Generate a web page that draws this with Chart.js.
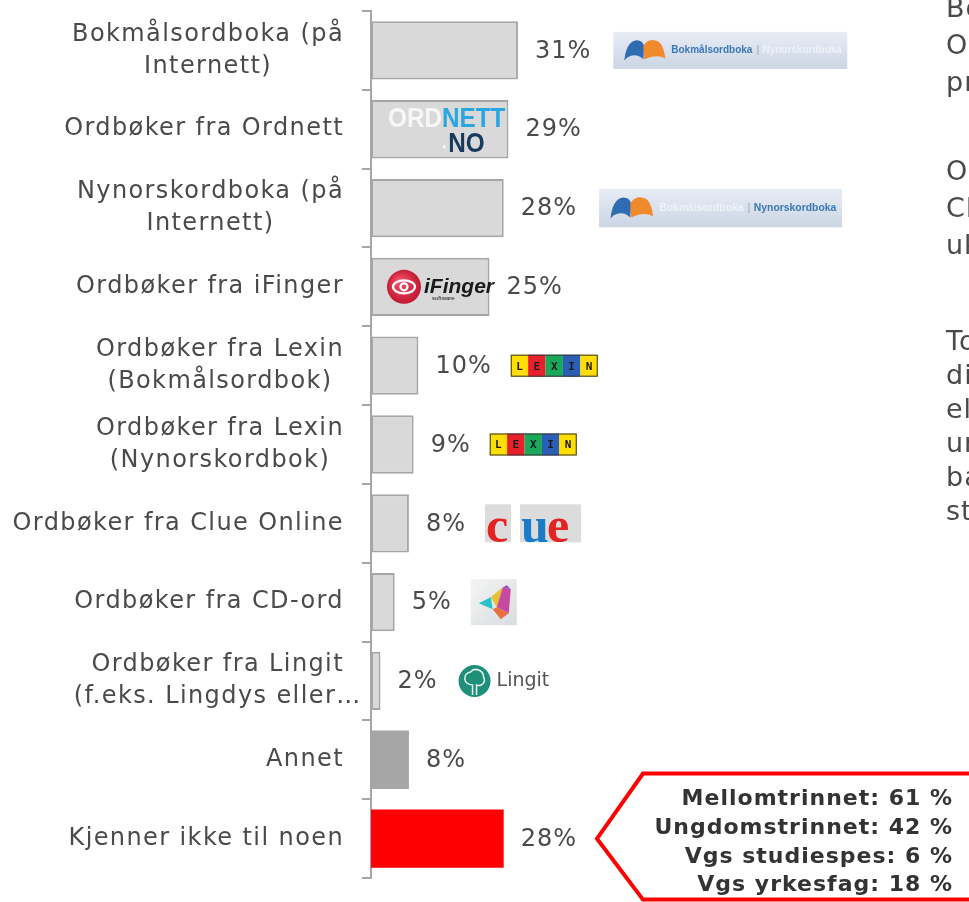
<!DOCTYPE html>
<html>
<head>
<meta charset="utf-8">
<script src="https://cdn.jsdelivr.net/npm/chart.js@4"></script>
<style>
  html, body { margin: 0; padding: 0; background: #fff; overflow: hidden; }
  #wrap { position: relative; width: 969px; height: 902px; }
  .side { position: absolute; left: 946px; font-family: "DejaVu Sans"; font-size: 27px;
          color: #4a4a4a; white-space: nowrap; line-height: 37px; letter-spacing: 1px; }
</style>
</head>
<body>
<div id="wrap">
  <canvas id="chart"></canvas>
  <div class="side" style="top:-11px">Bokmålsordboka og<br>Ordnett er mest<br>praktisk.</div>
  <div class="side" style="top:152px">Ordbøker fra<br>CD-ord og Lingit er<br>ukjente for mange.</div>
  <div class="side" style="top:324px;line-height:34px">To av tre på<br>disse trinnene kjenner<br>ellers ikke til noen<br>ungdomsskole og<br>barnetrinnet, men ikke<br>studiespes.</div>
</div>
<script>
// kategorier (ovenfra og ned) og andel i prosent
const kategorier = [
  ["Bokmålsordboka (på", "Internett)"],
  "Ordbøker fra Ordnett",
  ["Nynorskordboka (på", "Internett)"],
  "Ordbøker fra iFinger",
  ["Ordbøker fra Lexin", "(Bokmålsordbok)"],
  ["Ordbøker fra Lexin", "(Nynorskordbok)"],
  "Ordbøker fra Clue Online",
  "Ordbøker fra CD-ord",
  ["Ordbøker fra Lingit", "(f.eks. Lingdys eller…"],
  "Annet",
  "Kjenner ikke til noen"
];
const andeler = [31, 29, 28, 25, 10, 9, 8, 5, 2, 8, 28];
const logoer = ["bokmal", "ordnett", "nynorsk", "ifinger", "lexin", "lexin", "clue", "cdord", "lingit", null, null];
const kjennerIkke = ["Mellomtrinnet: 61 %", "Ungdomstrinnet: 42 %", "Vgs studiespes: 6 %", "Vgs yrkesfag: 18 %"];

const farger = andeler.map((v, i) => i < 9 ? "#d9d9d9" : (i === 9 ? "#a6a6a6" : "#ff0000"));
const kanter = andeler.map((v, i) => i < 9 ? 2 : 0);
const TEKST = "#4a4a4a";
const FONT = '"DejaVu Sans"';

// --- logoer ---
function ordbokaLogo(ctx, x, yc, w, aktiv) {
  const s = w / 234, h = 37 * s, y = yc - h / 2;
  const g = ctx.createLinearGradient(0, y, 0, y + h);
  g.addColorStop(0, "#e8edf5"); g.addColorStop(1, "#cbd5e4");
  ctx.fillStyle = g; ctx.fillRect(x, y, w, h);
  const ix = x + 11 * s;
  ctx.fillStyle = "#2f6db3";
  ctx.beginPath();
  ctx.moveTo(ix, yc + 10 * s);
  ctx.quadraticCurveTo(ix + 2 * s, yc - 8 * s, ix + 11 * s, yc - 10 * s);
  ctx.quadraticCurveTo(ix + 18 * s, yc - 11 * s, ix + 20 * s, yc - 4 * s);
  ctx.lineTo(ix + 19 * s, yc + 9 * s);
  ctx.quadraticCurveTo(ix + 12 * s, yc + 2 * s, ix + 3 * s, yc + 7 * s);
  ctx.closePath(); ctx.fill();
  ctx.fillStyle = "#f08a2c";
  const ox = ix + 19 * s;
  ctx.beginPath();
  ctx.moveTo(ox, yc - 4 * s);
  ctx.quadraticCurveTo(ox + 4 * s, yc - 12 * s, ox + 12 * s, yc - 10 * s);
  ctx.quadraticCurveTo(ox + 20 * s, yc - 9 * s, ox + 22 * s, yc + 8 * s);
  ctx.quadraticCurveTo(ox + 14 * s, yc + 3 * s, ox + 1 * s, yc + 9 * s);
  ctx.closePath(); ctx.fill();
  ctx.font = `bold ${10 * s}px "Liberation Sans"`;
  ctx.textBaseline = "middle"; ctx.textAlign = "left";
  let tx = x + 58 * s;
  ctx.fillStyle = aktiv === "bokmal" ? "#3a78b8" : "#eef2f8";
  ctx.fillText("Bokmålsordboka", tx, yc);
  tx += ctx.measureText("Bokmålsordboka").width + 4 * s;
  ctx.fillStyle = "#a9b8cc"; ctx.fillText("|", tx, yc);
  tx += 6 * s;
  ctx.fillStyle = aktiv === "nynorsk" ? "#3a78b8" : "#eef2f8";
  ctx.fillText("Nynorskordboka", tx, yc);
}

function ordnettLogo(ctx, x, yc) {
  ctx.save();
  ctx.translate(x, yc);
  ctx.scale(0.9, 1);
  ctx.textBaseline = "alphabetic"; ctx.textAlign = "left";
  ctx.font = 'bold 27px "Liberation Sans"';
  ctx.fillStyle = "#f7f7f7";
  ctx.fillText("ORD", 0, -2);
  const w = ctx.measureText("ORD").width;
  ctx.fillStyle = "#2aa6e0";
  ctx.fillText("NETT", w, -2);
  ctx.fillStyle = "#173a5e";
  ctx.fillText("NO", w + 7, 23);
  ctx.fillStyle = "#f7f7f7";
  ctx.fillRect(w + 1, 16, 3, 3);
  ctx.restore();
}

function ifingerLogo(ctx, x, yc) {
  const cx = x + 18;
  const g = ctx.createRadialGradient(cx - 5, yc - 6, 2, cx, yc, 18);
  g.addColorStop(0, "#f0506a"); g.addColorStop(1, "#c0162e");
  ctx.fillStyle = g;
  ctx.beginPath(); ctx.arc(cx, yc, 17, 0, Math.PI * 2); ctx.fill();
  ctx.strokeStyle = "#fff"; ctx.lineWidth = 2.2;
  ctx.beginPath(); ctx.ellipse(cx, yc, 11, 6.5, 0, 0, Math.PI * 2); ctx.stroke();
  ctx.beginPath(); ctx.arc(cx, yc, 3.5, 0, Math.PI * 2); ctx.stroke();
  ctx.fillStyle = "#1a1a1a"; ctx.textAlign = "left"; ctx.textBaseline = "alphabetic";
  ctx.font = 'italic bold 21px "Liberation Sans"';
  ctx.fillText("iFinger", x + 38, yc + 6);
  ctx.font = '6px "Liberation Sans"';
  ctx.fillText("software", x + 46, yc + 13);
}

function lexinLogo(ctx, x, yc) {
  const cols = ["#ffde00", "#e8202a", "#1aa85a", "#2b5fb5", "#ffde00"];
  const bokst = ["L", "E", "X", "I", "N"];
  const cw = 17.4, h = 22, y = yc - h / 2;
  ctx.font = 'bold 11px "DejaVu Sans Mono"';
  ctx.textAlign = "center"; ctx.textBaseline = "middle";
  cols.forEach((c, k) => {
    ctx.fillStyle = c; ctx.fillRect(x + k * cw, y, cw, h);
    ctx.fillStyle = "#1a1a1a"; ctx.fillText(bokst[k], x + k * cw + cw / 2, yc + 1);
  });
  ctx.strokeStyle = "#333"; ctx.lineWidth = 1;
  ctx.strokeRect(x + 0.5, y + 0.5, cw * 5 - 1, h - 1);
}

function clueLogo(ctx, x, yc) {
  const y = yc - 19;
  ctx.save();
  ctx.fillStyle = "#dcdcdc";
  ctx.fillRect(x, y, 26, 38);
  ctx.fillRect(x + 35, y, 61, 38);
  ctx.beginPath(); ctx.rect(x, y, 96, 38); ctx.clip();
  ctx.font = 'bold 50px "Liberation Serif"';
  ctx.textAlign = "left"; ctx.textBaseline = "alphabetic";
  ctx.fillStyle = "#e32222"; ctx.fillText("c", x + 1, y + 38);
  ctx.fillStyle = "#1a7bc9"; ctx.fillText("u", x + 36, y + 38);
  ctx.fillStyle = "#e32222"; ctx.fillText("e", x + 62, y + 38);
  ctx.restore();
}

function cdordLogo(ctx, x, yc) {
  const y = yc - 23;
  const g = ctx.createLinearGradient(x, y, x + 46, y + 46);
  g.addColorStop(0, "#f4f4f4"); g.addColorStop(1, "#d8dde0");
  ctx.fillStyle = g; ctx.fillRect(x, y, 46, 46);
  const p = (pts, c) => {
    ctx.fillStyle = c; ctx.beginPath();
    ctx.moveTo(x + pts[0], y + pts[1]);
    for (let k = 2; k < pts.length; k += 2) ctx.lineTo(x + pts[k], y + pts[k + 1]);
    ctx.closePath(); ctx.fill();
  };
  p([8, 24, 20, 18, 22, 30], "#2cc0c8");
  p([20, 18, 32, 8, 26, 28], "#e8c030");
  p([32, 8, 40, 10, 38, 34, 26, 28], "#c84aa0");
  p([22, 30, 26, 28, 38, 34, 30, 40], "#e87040");
  p([32, 8, 36, 6, 40, 10], "#8a4ad0");
}

function lingitLogo(ctx, x, yc) {
  const cx = x + 16;
  ctx.fillStyle = "#1f8f7a";
  ctx.beginPath(); ctx.arc(cx, yc, 16, 0, Math.PI * 2); ctx.fill();
  ctx.strokeStyle = "#e8f5f2"; ctx.lineWidth = 1.5;
  ctx.beginPath();
  ctx.moveTo(cx - 2, yc + 14); ctx.lineTo(cx - 2, yc + 4);
  ctx.bezierCurveTo(cx - 12, yc + 4, cx - 12, yc - 8, cx - 4, yc - 9);
  ctx.bezierCurveTo(cx, yc - 14, cx + 9, yc - 11, cx + 9, yc - 4);
  ctx.bezierCurveTo(cx + 12, yc + 2, cx + 6, yc + 6, cx + 2, yc + 4);
  ctx.lineTo(cx + 2, yc + 14);
  ctx.stroke();
  ctx.fillStyle = "#555"; ctx.font = '19px "DejaVu Sans"';
  ctx.textAlign = "left"; ctx.textBaseline = "middle";
  ctx.fillText("Lingit", x + 38, yc);
}

// tekst på akse, verdier, logoer og boks
const pyntPlugin = {
  id: "pynt",
  afterDraw(chart) {
    const ctx = chart.ctx;
    const ys = chart.scales.y;
    const bars = chart.getDatasetMeta(0).data;
    ctx.save();

    // kategorinavn: høyrestilt blokk, linjene sentrert mot hverandre
    ctx.font = `24px ${FONT}`;
    ctx.letterSpacing = "1.4px";
    ctx.fillStyle = TEKST;
    ctx.textAlign = "center"; ctx.textBaseline = "middle";
    const hoyre = ys.right - 27;
    kategorier.forEach((lab, i) => {
      const linjer = Array.isArray(lab) ? lab : [lab];
      const yc = ys.getPixelForValue(i);
      // avkortede linjer (…) får stikke ut, blokken styres av de hele linjene
      const hele = linjer.filter(l => !l.endsWith("…"));
      const bredde = Math.max(...hele.map(l => ctx.measureText(l).width));
      linjer.forEach((l, k) => {
        ctx.fillText(l, hoyre - bredde / 2, yc + (k - (linjer.length - 1) / 2) * 32);
      });
    });

    // verdier og logoer
    bars.forEach((bar, i) => {
      ctx.font = `24px ${FONT}`;
      ctx.letterSpacing = "1px";
      ctx.fillStyle = TEKST;
      ctx.textAlign = "left"; ctx.textBaseline = "middle";
      const tekst = andeler[i] + "%";
      const lx = bar.x + 17;
      ctx.fillText(tekst, lx, bar.y + 1);
      const slutt = lx + ctx.measureText(tekst).width;
      ctx.letterSpacing = "0px";
      const logo = logoer[i];
      const inne = chart.chartArea.left + 15;
      if (logo === "bokmal") ordbokaLogo(ctx, slutt + 22, bar.y, 234, "bokmal");
      if (logo === "nynorsk") ordbokaLogo(ctx, slutt + 22, bar.y, 243, "nynorsk");
      if (logo === "ordnett") ordnettLogo(ctx, inne + 2, bar.y);
      if (logo === "ifinger") ifingerLogo(ctx, inne, bar.y);
      if (logo === "lexin") lexinLogo(ctx, slutt + 19, bar.y);
      if (logo === "clue") clueLogo(ctx, slutt + 19, bar.y);
      if (logo === "cdord") cdordLogo(ctx, slutt + 19, bar.y);
      if (logo === "lingit") lingitLogo(ctx, slutt + 21, bar.y);
    });

    // rød boks ved "Kjenner ikke til noen"
    const siste = bars[bars.length - 1];
    const by = siste.y;
    ctx.beginPath();
    ctx.moveTo(975, by - 65);
    ctx.lineTo(643, by - 65);
    ctx.lineTo(597, by);
    ctx.lineTo(643, by + 61);
    ctx.lineTo(975, by + 61);
    ctx.fillStyle = "#fff"; ctx.fill();
    ctx.strokeStyle = "#ff0000"; ctx.lineWidth = 4; ctx.lineJoin = "miter";
    ctx.stroke();
    ctx.font = `bold 22px ${FONT}`;
    ctx.letterSpacing = "1px";
    ctx.fillStyle = "#333";
    ctx.textAlign = "right"; ctx.textBaseline = "middle";
    kjennerIkke.forEach((t, k) => ctx.fillText(t, 953, by - 39 + k * 28.7));
    ctx.restore();
  }
};

new Chart(document.getElementById("chart"), {
  type: "bar",
  data: {
    labels: kategorier,
    datasets: [{
      data: andeler,
      backgroundColor: farger,
      borderColor: "#a6a6a6",
      borderWidth: kanter,
      borderSkipped: false,
      categoryPercentage: 1,
      barPercentage: 0.74
    }]
  },
  options: {
    indexAxis: "y",
    responsive: true,
    maintainAspectRatio: false,
    animation: false,
    layout: { padding: { top: 11, right: 124, bottom: 24, left: 0 } },
    plugins: { legend: { display: false }, tooltip: { enabled: false } },
    scales: {
      x: { display: false, min: 0, max: 100 },
      y: {
        ticks: { display: false },
        grid: { offset: true, drawOnChartArea: false, drawTicks: true, tickLength: 9, color: "#a6a6a6", lineWidth: 2 },
        border: { color: "#a6a6a6", width: 2 },
        afterFit: s => { s.width = 371; }
      }
    }
  },
  plugins: [pyntPlugin]
});
</script>
</body>
</html>
